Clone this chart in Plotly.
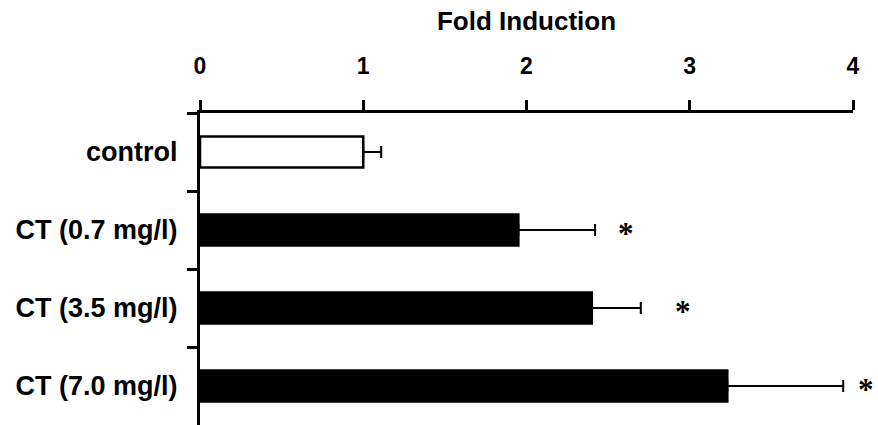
import plotly.graph_objects as go

# Fold induction per treatment group (mean + SD, one-sided error bars)
groups = ["control", "CT (0.7 mg/l)", "CT (3.5 mg/l)", "CT (7.0 mg/l)"]
fold_mean = [1.00, 1.95, 2.40, 3.23]
fold_err = [0.11, 0.47, 0.30, 0.71]
significant = [False, True, True, True]
bar_colors = ["white", "black", "black", "black"]
x_ticks = [0, 1, 2, 3, 4]

FONT = "Liberation Sans, Arial, sans-serif"

fig = go.Figure()
fig.add_trace(go.Bar(
    y=groups,
    x=fold_mean,
    orientation="h",
    width=0.4,
    marker=dict(color=bar_colors, line=dict(color="black", width=2.5)),
    error_x=dict(
        type="data",
        symmetric=False,
        array=fold_err,
        arrayminus=[0] * len(fold_err),
        color="black",
        thickness=2,
        width=6,
    ),
    showlegend=False,
))

# significance markers to the right of the error caps (pixel offsets)
star_shift = [0, 31, 42, 23]
for g, m, e, s, dx in zip(groups, fold_mean, fold_err, significant, star_shift):
    if s:
        fig.add_annotation(
            x=m + e, y=g, text="*", showarrow=False,
            xanchor="center", yanchor="middle", xshift=dx, yshift=-3,
            font=dict(family="Liberation Serif", size=31, color="black",
                      weight="bold"),
        )

fig.update_layout(
    width=878, height=425,
    margin=dict(l=200, r=25, t=113, b=0),
    plot_bgcolor="white", paper_bgcolor="white",
    bargap=0.6,
)
fig.update_xaxes(
    side="top",
    range=[0, 4],
    tickvals=x_ticks,
    ticktext=[str(t) for t in x_ticks],
    ticks="outside", ticklen=10, tickwidth=3, tickcolor="black",
    showline=True, linewidth=3, linecolor="black",
    showgrid=False, zeroline=False,
    ticklabelstandoff=17,
    tickfont=dict(family=FONT, size=23, color="black", weight="bold"),
    title=dict(text="Fold Induction", standoff=15,
               font=dict(family=FONT, size=26, color="black", weight="bold")),
)
fig.update_yaxes(
    type="category",
    categoryorder="array", categoryarray=groups,
    range=[3.5, -0.5],
    tickson="boundaries",
    ticks="outside", ticklen=10, tickwidth=3, tickcolor="black",
    showline=True, linewidth=3, linecolor="black",
    showgrid=False, zeroline=False,
    ticklabelstandoff=14,
    tickfont=dict(family=FONT, size=27, color="black", weight="bold"),
)

fig.write_html("out.html")
